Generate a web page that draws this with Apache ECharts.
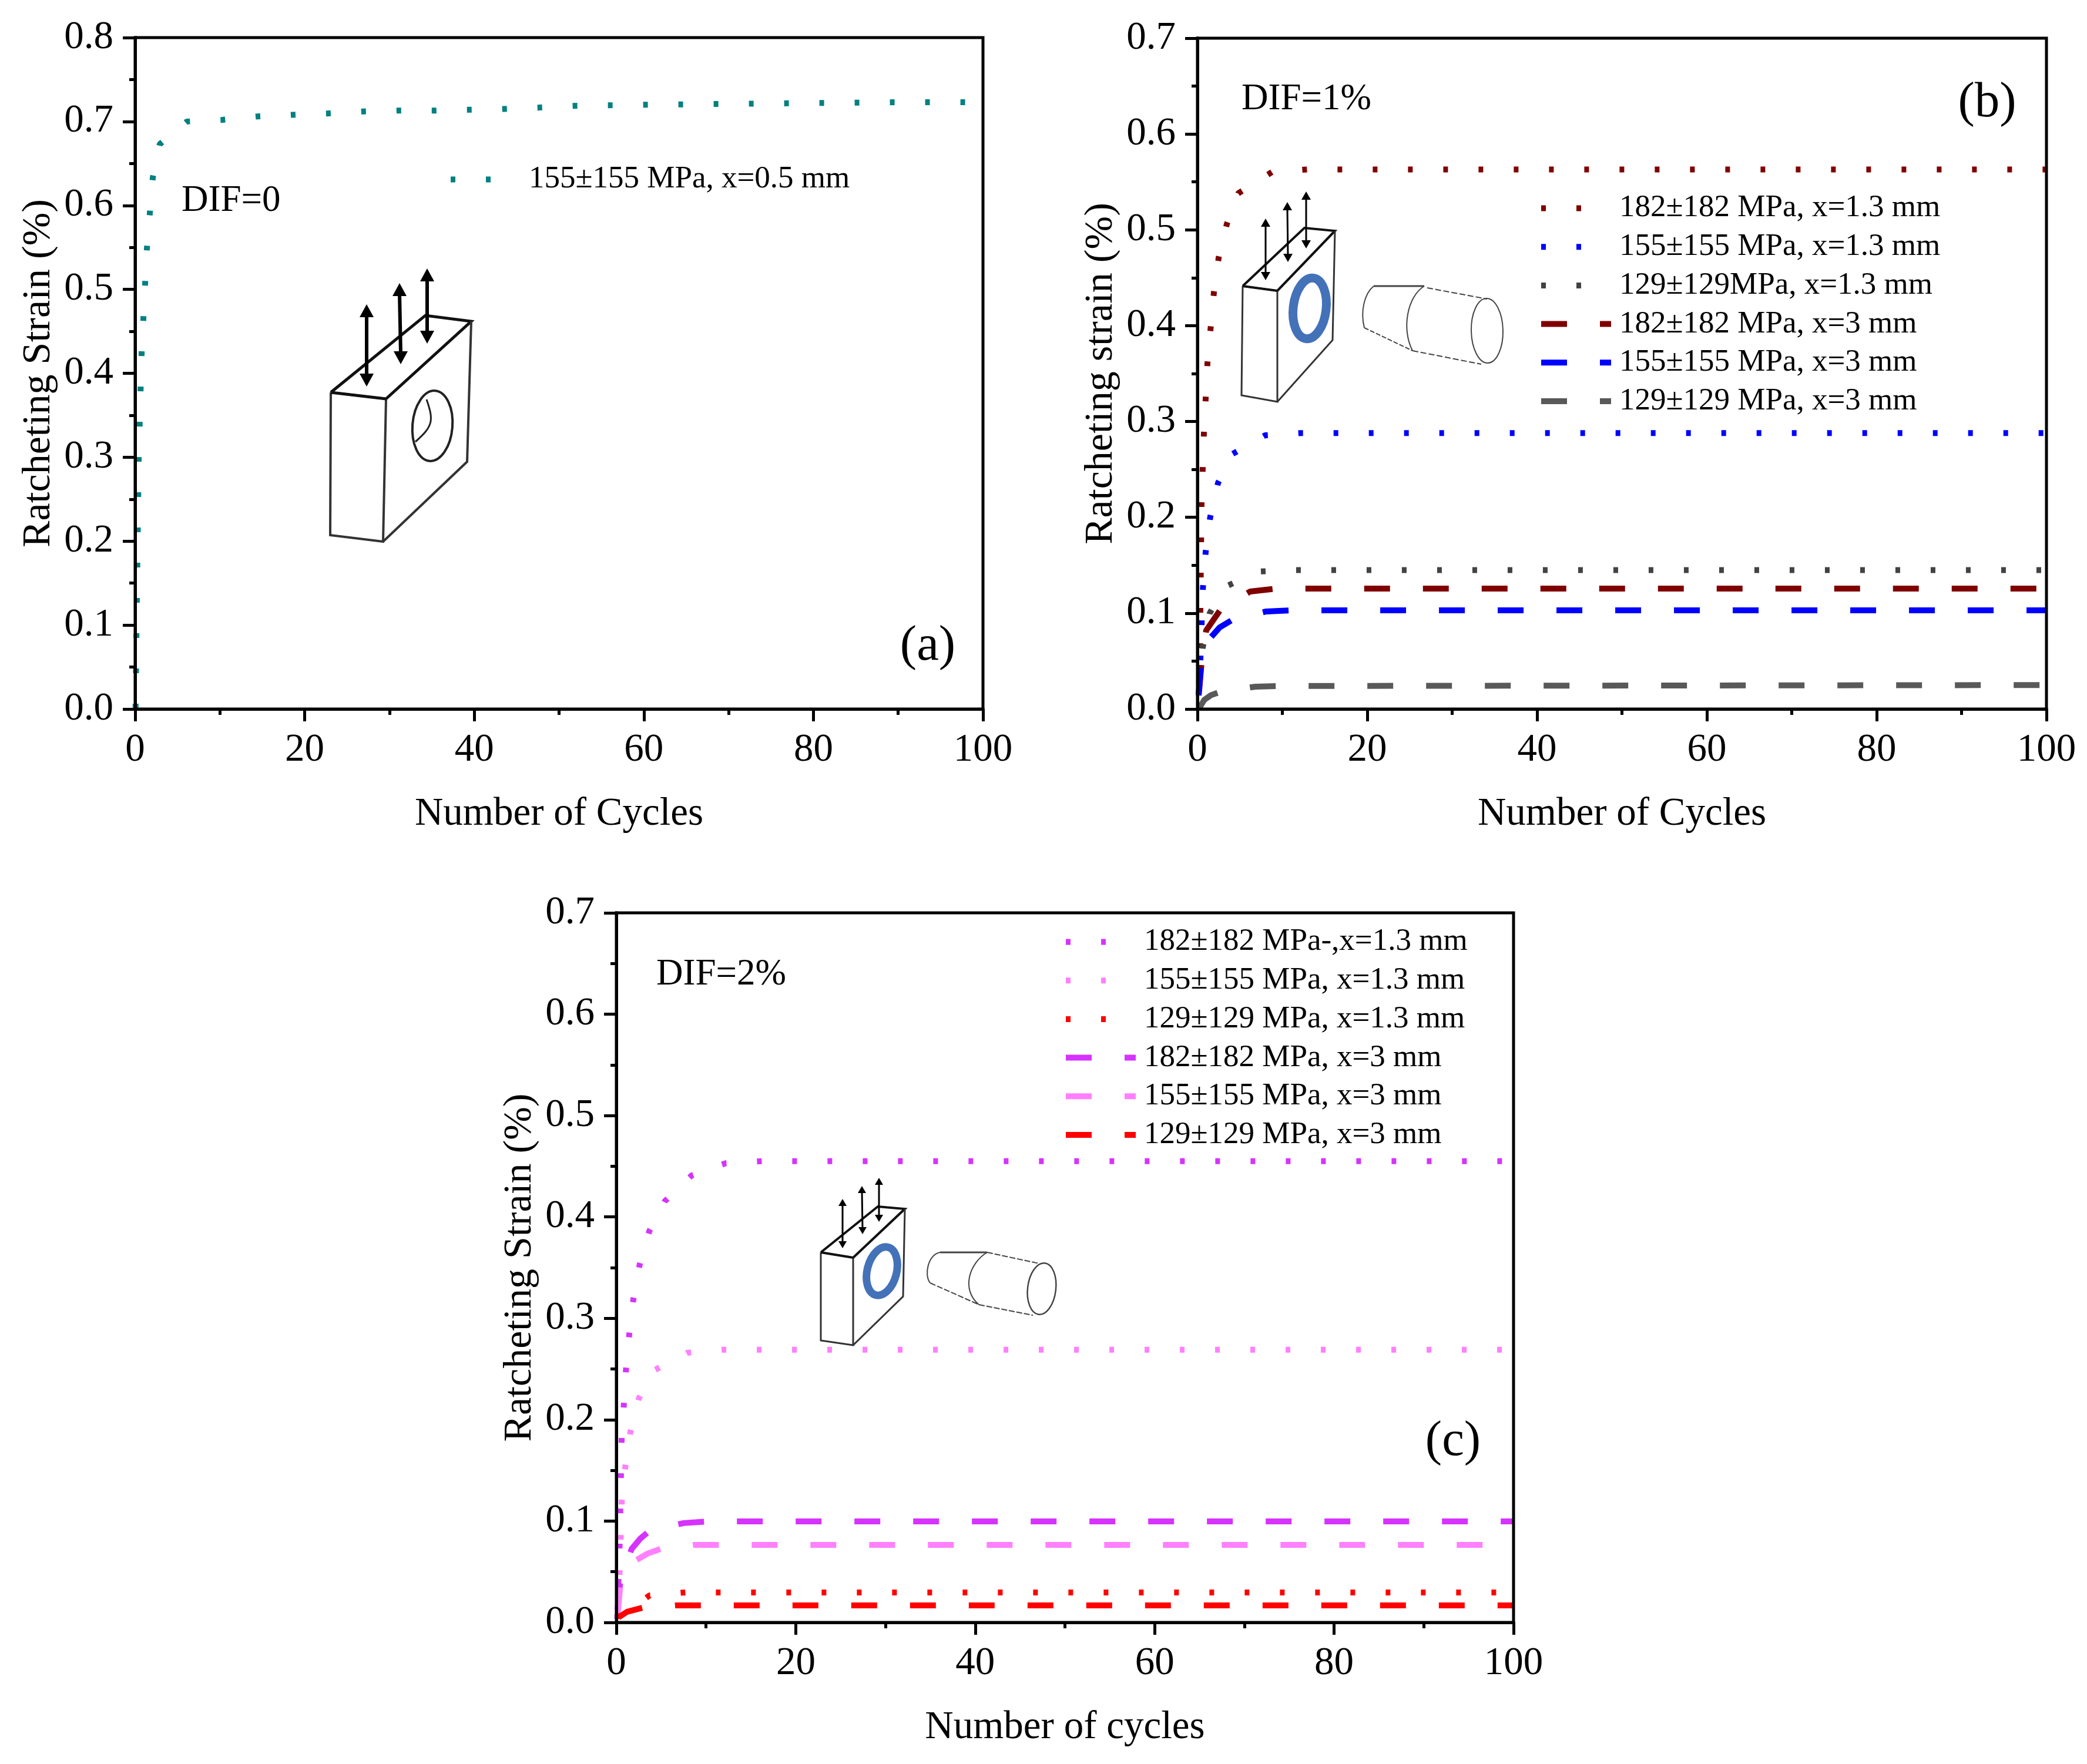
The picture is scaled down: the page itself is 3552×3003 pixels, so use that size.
<![CDATA[<!DOCTYPE html>
<html><head><meta charset="utf-8"><style>html,body{margin:0;padding:0;background:#fff}#c{width:3552px;height:3003px}</style>
<script src="https://cdn.jsdelivr.net/npm/echarts@6/dist/echarts.min.js"></script></head><body><div id="c"></div>
<script>
const FONT='"Liberation Serif","Times New Roman",serif';
// --- Panel (a)
const aName='155±155 MPa, x=0.5 mm';
const aX=[0.05,0.2,0.42,0.76,1.39,2.08,2.9,6.1,10.3,14.4,18.6,22.7,26.9,31,35.1,39.3,43.5,47.5,51.7,60,70,80,90,100];
const aY=[0.0007,0.128,0.297,0.423,0.549,0.633,0.673,0.7,0.702,0.706,0.708,0.7096,0.712,0.713,0.713,0.714,0.715,0.7166,0.7187,0.72,0.721,0.722,0.723,0.723];
// --- Panel (b) dotted
const bNames=['182±182 MPa, x=1.3 mm','155±155 MPa, x=1.3 mm','129±129MPa, x=1.3 mm','182±182 MPa, x=3 mm','155±155 MPa, x=3 mm','129±129 MPa, x=3 mm'];
const b1X=[0.1,0.3,0.48,0.76,1.18,1.94,2.5,3.46,4.8,8.8,12.9,100];
const b1Y=[-0.0098,0.067,0.213,0.288,0.361,0.435,0.471,0.506,0.538,0.5605,0.563,0.563];
const b2X=[0.15,0.35,0.65,0.97,1.5,2.43,4.1,8,12.2,100];
const b2Y=[0.0141,0.053,0.127,0.164,0.2,0.236,0.266,0.2857,0.288,0.288];
const b3X=[0.22,0.62,1.45,3.25,7.3,11.4,100];
const b3Y=[0.0264,0.064,0.1,0.1275,0.1435,0.145,0.145];
// --- Panel (b) dashed
const b4X=[0.2,0.48,1.03,2.7,6.2,9.3,13.3,100];
const b4Y=[0.019,0.048,0.082,0.1036,0.1226,0.1257,0.1257,0.1257];
const b5X=[0.15,0.4,1.6,2.6,4.1,8.1,11.1,100];
const b5Y=[0.016,0.044,0.075,0.085,0.093,0.1018,0.103,0.103];
const b6X=[0.15,0.8,1.6,2.84,6.85,9.9,100];
const b6Y=[0,0.0095,0.0145,0.0184,0.0233,0.024,0.025];
// --- Panel (c)
const cNames=['182±182 MPa-,x=1.3 mm','155±155 MPa, x=1.3 mm ','129±129 MPa, x=1.3 mm','182±182 MPa, x=3 mm ','155±155 MPa, x=3 mm ','129±129 MPa, x=3 mm '];
const c1X=[0.1,0.36,0.59,1.08,1.44,1.9,2.6,3.67,5.4,8.4,12.2,16.2,100];
const c1Y=[0.0035,0.075,0.18,0.25,0.2845,0.319,0.353,0.386,0.4155,0.441,0.453,0.455,0.455];
const c2X=[0.15,0.36,0.6,1,1.57,2.5,4.2,7.9,11.8,100];
const c2Y=[0.0122,0.049,0.1188,0.1536,0.1883,0.2208,0.2486,0.266,0.269,0.269];
const c3X=[0.05,1.5,3.7,7.7,100];
const c3Y=[0.0055,0.012,0.0267,0.0296,0.0296];
const c4X=[0.15,0.45,1.7,2.7,3.8,7.5,10.4,100];
const c4Y=[0.0131,0.042,0.0724,0.083,0.091,0.098,0.0997,0.0997];
const c5X=[0.15,0.45,2.2,3.5,4.9,8.6,11.5,100];
const c5Y=[0.0091,0.038,0.0614,0.068,0.0724,0.0765,0.0765,0.0765];
const c6X=[0.24,1.2,2.9,6.6,9.5,100];
const c6Y=[0.005,0.0105,0.0145,0.0168,0.0168,0.0168];
const DOT=[8,52], DASH=[44,56];

const zip=(x,y)=>x.map((v,i)=>[v,y[i]]);
const grids=[{left:230,top:64,width:1443,height:1143},{left:2038,top:65,width:1445,height:1142},{left:1049,top:1554,width:1527,height:1208}];
const mk=(name,xs,ys,color,dash,g)=>({type:'line',name,data:zip(xs,ys),xAxisIndex:g,yAxisIndex:g,symbol:'none',showSymbol:false,z:1,silent:true,clip:true,
  lineStyle:{color,width:10,type:dash,cap:'butt',join:'bevel'},itemStyle:{color},emphasis:{disabled:true}});
const series=[
 mk(aName,aX,aY,'#008080',DOT,0),
 mk(bNames[0],b1X,b1Y,'#800000',DOT,1),mk(bNames[1],b2X,b2Y,'#0000ff',DOT,1),mk(bNames[2],b3X,b3Y,'#424242',DOT,1),
 mk(bNames[3],b4X,b4Y,'#800000',DASH,1),mk(bNames[4],b5X,b5Y,'#0000ff',DASH,1),mk(bNames[5],b6X,b6Y,'#595959',DASH,1),
 mk(cNames[0],c1X,c1Y,'#d633ff',DOT,2),mk(cNames[1],c2X,c2Y,'#ff80ff',DOT,2),mk(cNames[2],c3X,c3Y,'#ff0000',DOT,2),
 mk(cNames[3],c4X,c4Y,'#d633ff',DASH,2),mk(cNames[4],c5X,c5Y,'#ff80ff',DASH,2),mk(cNames[5],c6X,c6Y,'#ff0000',DASH,2)];
const axLine={show:true,onZero:false,lineStyle:{color:'#000',width:5,cap:'square'}};
const common=()=>({axisLine:axLine,axisTick:{show:true,inside:false,length:21,lineStyle:{color:'#000',width:5}},
  minorTick:{show:true,splitNumber:2,length:10,lineStyle:{color:'#000',width:5}},splitLine:{show:false},minorSplitLine:{show:false},z:3,
  nameTextStyle:{fontFamily:FONT,fontSize:68,color:'#000'},nameLocation:'middle'});
const xAxes=['Number of Cycles','Number of Cycles','Number of cycles'].map((n,i)=>Object.assign(common(),{type:'value',gridIndex:i,min:0,max:100,interval:20,name:n,nameGap:146,
  nameTextStyle:{fontFamily:FONT,fontSize:67,color:'#000'},
  axisLabel:{fontFamily:FONT,fontSize:67,color:'#000',margin:37}}));
const yAxes=[['Ratcheting Strain (%)',0.8,130],['Ratcheting strain (%)',0.7,130],['Ratcheting Strain (%)',0.7,130]].map((a,i)=>Object.assign(common(),{type:'value',gridIndex:i,min:0,max:a[1],interval:0.1,name:a[0],nameGap:a[2],
  axisLabel:{fontFamily:FONT,fontSize:67,color:'#000',margin:37,formatter:v=>v.toFixed(1)}}));
const legendBase={orient:'vertical',padding:0,itemWidth:119,itemHeight:20,itemGap:12.7,selectedMode:false,align:'left',
  itemStyle:{color:'transparent',borderWidth:0},lineStyle:{width:10},textStyle:{fontFamily:FONT,fontSize:53,lineHeight:53,color:'#000',padding:[0,0,0,9]},formatter:n=>n.trim()};
const legends=[Object.assign({},legendBase,{left:762,top:279,data:[aName]}),
 Object.assign({},legendBase,{left:2618,top:328,data:bNames}),
 Object.assign({},legendBase,{left:1809,top:1577,data:cNames})];

// --- annotation text
const notes=[['DIF=0',309,342,63,'left'],['DIF=1%',2113,169,63,'left'],['DIF=2%',1117,1659,63,'left'],['(a)',1579,1101,85,'center'],['(b)',3382,176,85,'center'],['(c)',2473,2455,85,'center']];
const g=[];
notes.forEach(n=>g.push({type:'text',z:6,silent:true,style:{text:n[0],x:n[1],y:n[2],font:n[3]+'px '+FONT,fill:'#000',align:n[4],verticalAlign:'middle',textAlign:n[4],textVerticalAlign:'middle'}}));
// --- inset drawings (schematic specimen, not data)
const line=(pts,w,c,dash)=>g.push({type:'polyline',z:6,silent:true,shape:{points:pts},style:{stroke:c||'#111',lineWidth:w,fill:null,lineDash:dash||null}});
const arrow=(x1,y1,x2,y2,lw,hw,hl)=>{
  line([[x1,y1+hl*0.8],[x2,y2-hl*0.8]],lw,'#000');
  g.push({type:'polygon',z:6,silent:true,shape:{points:[[x1,y1],[x1-hw,y1+hl],[x1+hw,y1+hl]]},style:{fill:'#000'}});
  g.push({type:'polygon',z:6,silent:true,shape:{points:[[x2,y2],[x2-hw,y2-hl],[x2+hw,y2-hl]]},style:{fill:'#000'}});
};
const ell=(cx,cy,rx,ry,w,c,rot)=>g.push({type:'ellipse',z:6,silent:true,x:cx,y:cy,rotation:rot||0,shape:{cx:0,cy:0,rx,ry},style:{stroke:c,lineWidth:w,fill:null}});
const curve=(a,c1,c2,b,w,c)=>g.push({type:'bezierCurve',z:6,silent:true,shape:{x1:a[0],y1:a[1],cpx1:c1[0],cpy1:c1[1],cpx2:c2[0],cpy2:c2[1],x2:b[0],y2:b[1]},style:{stroke:c||'#333',lineWidth:w,fill:null}});
const block=(A,B,C,D,E,F,G,w)=>{ // A,B top-front; C,D bottom-front; E,F top-back; G right-bottom
  line([A,B,D,C,A],w,'#333');line([A,E,F,B],w+1,'#111');line([F,G,D],w,'#333');line([A,B],w+1,'#111');
};
// (a)
block([563,668],[657,679],[562,911],[652,922],[724,537],[802,547],[795,786],4);
ell(736,725,34,60,4,'#222',-0.08);
curve([726,680],[738,715],[738,725],[707,752],3,'#222');
arrow(624,518,624,658,6,12,22);arrow(680,482,682,620,6,12,22);arrow(727,457,727,585,6,12,22);
// (b)
block([2115,487],[2174,495],[2113,673],[2174,684],[2220,388],[2272,393],[2268,579],3);
ell(2229,525,28,52,15,'#4472b8',-0.12);
arrow(2154,372,2154,477,3,8,14);arrow(2191,344,2192,446,3,8,14);arrow(2223,326,2223,423,3,8,14);
curve([2338,487],[2322,500],[2315,530],[2322,558],2,'#444');line([[2338,487],[2424,487]],3,'#444');line([[2322,558],[2404,597]],2,'#444',[8,3]);line([[2404,597],[2521,620]],2,'#444',[10,4]);line([[2429,490],[2531,509]],2,'#444',[10,4]);
curve([2424,487],[2395,505],[2385,560],[2404,597],2,'#444');ell(2531,563,27,55,2,'#444',0.02);
// (c)
block([1397,2132],[1452,2141],[1397,2282],[1452,2290],[1494,2054],[1540,2058],[1537,2207],3);
ell(1501,2164,25,42,13,'#4472b8',-0.25);
arrow(1434,2041,1434,2125,3,7,12);arrow(1467,2019,1468,2101,3,7,12);arrow(1496,2005,1496,2080,3,7,12);
curve([1600,2132],[1580,2135],[1572,2170],[1583,2184],2,'#444');line([[1600,2132],[1680,2132]],3,'#444');line([[1583,2184],[1666,2221]],2,'#444',[10,3]);line([[1666,2221],[1758,2239]],2,'#444',[10,3]);line([[1680,2132],[1769,2151]],2,'#444',[10,3]);
curve([1680,2132],[1650,2150],[1635,2195],[1666,2221],2,'#444');ell(1773,2194,24,44,2.5,'#444',-0.12);

const chart=echarts.init(document.getElementById('c'),null,{renderer:'canvas',width:3552,height:3003});
chart.setOption({animation:false,backgroundColor:'#fff',textStyle:{fontFamily:FONT},
  grid:grids.map(x=>Object.assign({show:true,borderColor:'#000',borderWidth:5,backgroundColor:'transparent',containLabel:false,z:3},x)),
  xAxis:xAxes,yAxis:yAxes,legend:legends,series,graphic:{elements:g},tooltip:{show:false}});
</script></body></html>]]>
